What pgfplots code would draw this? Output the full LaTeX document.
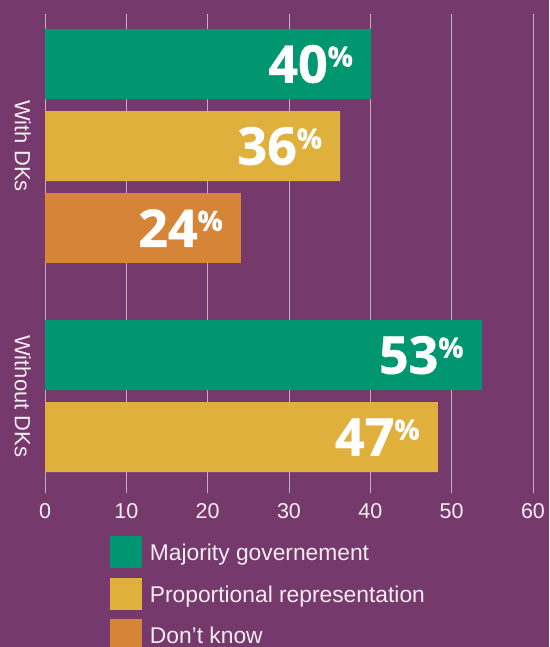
\documentclass[border=0pt]{standalone}
\usepackage{fontspec}
\setmainfont{Liberation Sans}
\newfontfamily\labfont[BoldFeatures={FakeBold=0.8}]{Open Sans}
\usepackage{pgfplots}
\pgfplotsset{compat=1.18}
\usepackage{pgfplotstable}

\definecolor{bg}{HTML}{753A6B}
\definecolor{cgreen}{HTML}{009770}
\definecolor{cyellow}{HTML}{E0B03C}
\definecolor{corange}{HTML}{D68438}
\definecolor{gridc}{HTML}{C4AEC0}
\definecolor{txt}{HTML}{F4ECF2}

% bar length, bar position (0,1,2 first group; second group lower), printed label
\pgfplotstableread{
x    y     lab
40.1 0     40
53.7 3.549 53
}\majority
\pgfplotstableread{
x    y     lab
36.3 1     36
48.3 4.549 47
}\proportional
\pgfplotstableread{
x    y     lab
24.1 2     24
}\dontknow

\newcommand\lbl[1]{{\labfont\bfseries\fontsize{52}{52}\selectfont #1\raisebox{16pt}{\fontsize{28}{28}\selectfont\%}}}

\begin{document}
\begin{tikzpicture}
\useasboundingbox (0,0) rectangle (549pt,647pt);
\fill[bg] (0,0) rectangle (549pt,647pt);
\begin{scope}
\clip (0,0) rectangle (549pt,647pt);
\begin{axis}[
    at={(45pt,154pt)}, anchor=south west,
    scale only axis, width=488pt, height=479pt,
    xbar, bar width=0.854, bar shift=0pt,
    xmin=0, xmax=60,
    ymin=-0.61, ymax=5.23, y dir=reverse,
    xtick={0,10,...,60},
    ytick={1,4.049},
    yticklabels={With DKs, Without DKs},
    axis line style={draw=none},
    major tick length=0pt,
    xmajorgrids, grid style={gridc, line width=1pt},
    /pgf/number format/assume math mode=true,
    xticklabel style={font=\fontsize{21.5}{21.5}\selectfont, text=txt, inner sep=0pt, yshift=-10pt},
    yticklabel style={font=\fontsize{22}{22}\selectfont, text=txt, inner sep=0pt, xshift=-14pt, rotate=-90, anchor=north},
    point meta=explicit symbolic,
    nodes near coords={\lbl{\pgfplotspointmeta}},
    every node near coord/.append style={anchor=east, inner sep=0pt, xshift=-18pt, text=white},
    legend image code/.code={\fill[#1] (0pt,-7.5pt) rectangle (32pt,24.5pt);},
    legend style={at={(0.133,-0.0898)}, anchor=north west, draw=none, fill=none,
        inner sep=0pt, outer sep=0pt, row sep=9.5pt, column sep=8pt,
        cells={anchor=base west},
        nodes={inner sep=0pt, text=txt, font=\fontsize{22.8}{26}\selectfont}},
]
\addplot[fill=cgreen, draw=none] table[x=x, y=y, meta=lab] {\majority};
\addplot[fill=cyellow, draw=none] table[x=x, y=y, meta=lab] {\proportional};
\addplot[fill=corange, draw=none] table[x=x, y=y, meta=lab] {\dontknow};
\legend{Majority governement, Proportional representation, Don’t know}
\end{axis}
\end{scope}
\end{tikzpicture}
\end{document}
